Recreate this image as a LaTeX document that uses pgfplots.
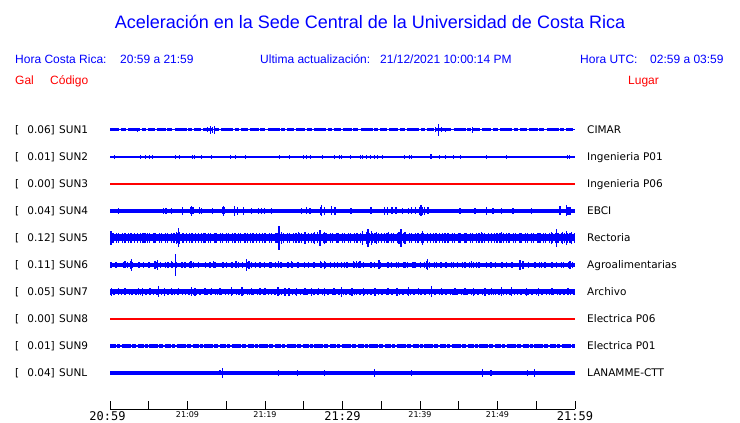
\documentclass[border=0pt]{standalone}
\usepackage{pgfplots}
\pgfplotsset{compat=1.18}
\usepackage{fontspec}
\setmainfont{Liberation Sans}
\newfontfamily\dv{DejaVu Sans}
\newfontfamily\dvm{DejaVu Sans Mono}
\begin{document}
\begin{tikzpicture}
\useasboundingbox (0,0) rectangle (740bp,423bp);
\begin{axis}[
  at={(110bp,14bp)}, anchor=south west,
  scale only axis, width=465bp, height=297bp,
  xmin=0, xmax=60, ymin=0, ymax=297,
  axis y line=none, axis x line=bottom,
  axis line style={-, black, line width=0.9bp},
  xtick={0,5,...,60},
  xticklabels={{\dvm\fontsize{12bp}{12bp}\selectfont\hspace*{-5bp}20:59},{},
    {\dv\fontsize{8bp}{8bp}\selectfont\raisebox{2.3bp}{21:09}},{},
    {\dv\fontsize{8bp}{8bp}\selectfont\raisebox{2.3bp}{21:19}},{},
    {\dvm\fontsize{12bp}{12bp}\selectfont 21:29},{},
    {\dv\fontsize{8bp}{8bp}\selectfont\raisebox{2.3bp}{21:39}},{},
    {\dv\fontsize{8bp}{8bp}\selectfont\raisebox{2.3bp}{21:49}},{},
    {\dvm\fontsize{12bp}{12bp}\selectfont 21:59}},
  major tick length=8bp, tick align=inside,
  tick style={black, line width=0.9bp},
  xticklabel style={anchor=base, yshift=-11bp, inner sep=0pt},
  clip=false,
  spike/.style={draw=none, forget plot, error bars/.cd, y dir=both, y explicit, error mark=none, error bar style={draw=blue, solid, line width=#1}},
]
% ---------- SUN3 (Ingenieria P06) and SUN8 (Electrica P06): flat red traces ----------
\addplot[draw=red, solid, line width=1.1bp, forget plot] coordinates {(0,225) (60,225)};
\addplot[draw=red, solid, line width=1.1bp, forget plot] coordinates {(0,90) (60,90)};
% ---------- SUN1 (CIMAR) ----------
\addplot[blue, line width=1bp, forget plot] coordinates {(0,279) (60,279)};
\addplot[blue, line width=3bp, forget plot, dash pattern=on 9bp off 1.5bp on 5bp off 2.5bp on 12bp off 1.5bp on 4bp off 2bp on 7bp off 2bp] coordinates {(0,279) (60,279)};
\addplot[spike=1.2bp] coordinates {
(3.53,279) +- (0,2.3) (12.6,279) +- (0,2.5) (12.94,279) +- (0,4.3) (13.2,279) +- (0,3)
(13.46,279) +- (0,4) (42.0,279) +- (0,2.5) (42.36,279) +- (0,6) (42.8,279) +- (0,2.5)
(43.3,279) +- (0,2.3) (46.74,279) +- (0,3.3)};
% ---------- SUN2 (Ingenieria P01) ----------
\addplot[blue, line width=1.1bp, forget plot] coordinates {(0,252) (60,252)};
\addplot[spike=0.9bp] coordinates {
(0.56,252) +- (0,1.8) (3.96,252) +- (0,1.8) (4.56,252) +- (0,1.8) (5.03,252) +- (0,1.6) (5.50,252) +- (0,1.6)
(8.43,252) +- (0,1.8) (8.90,252) +- (0,1.6) (10.62,252) +- (0,2.2) (10.88,252) +- (0,1.8) (11.82,252) +- (0,1.6)
(13.12,252) +- (0,1.8) (15.48,252) +- (0,1.6) (16.13,252) +- (0,1.6) (17.46,252) +- (0,2.2) (21.84,252) +- (0,1.6)
(23.13,252) +- (0,1.6) (24.98,252) +- (0,1.8) (25.33,252) +- (0,1.6) (25.84,252) +- (0,1.8) (27.43,252) +- (0,1.6)
(28.94,252) +- (0,1.6) (29.67,252) +- (0,1.8) (29.89,252) +- (0,1.8) (31.05,252) +- (0,1.6) (32.34,252) +- (0,1.6)
(32.55,252) +- (0,1.6) (33.15,252) +- (0,1.8) (33.63,252) +- (0,1.6) (34.10,252) +- (0,1.6) (34.53,252) +- (0,1.6)
(35.17,252) +- (0,1.6) (37.93,252) +- (0,1.6) (38.70,252) +- (0,1.6) (38.92,252) +- (0,1.8) (41.3,252) +- (0,2.5)
(41.5,252) +- (0,2.5) (42.48,252) +- (0,1.6) (43.26,252) +- (0,1.6) (44.29,252) +- (0,1.6) (45.19,252) +- (0,1.6)
(48.55,252) +- (0,1.6) (51.17,252) +- (0,1.6) (59.04,252) +- (0,1.8) (59.25,252) +- (0,1.8)};
% ---------- SUN4 (EBCI) ----------
\addplot[blue, line width=4.2bp, forget plot] coordinates {(0,198) (60,198)};
\addplot[spike=1.5bp] coordinates {
(1.07,198) +- (0,3) (6.88,198) +- (0,3) (7.22,198) +- (0,3) (7.96,198) +- (0,3) (9.33,198) +- (0,4)
(10.45,198) +- (0,3.5) (10.54,198) +- (0,5) (10.7,198) +- (0,3.5) (11.52,198) +- (0,3.5) (11.83,198) +- (0,3)
(13.20,198) +- (0,3) (14.5,198) +- (0,3.5) (14.62,198) +- (0,5) (14.75,198) +- (0,3.5) (16.04,198) +- (0,5)
(16.47,198) +- (0,4) (17.2,198) +- (0,4) (18.28,198) +- (0,3) (19.14,198) +- (0,3) (19.57,198) +- (0,3)
(19.91,198) +- (0,3) (20.86,198) +- (0,3) (24.72,198) +- (0,3) (25.37,198) +- (0,3.5) (25.80,198) +- (0,3)
(27.15,198) +- (0,4) (27.3,198) +- (0,5.5) (27.65,198) +- (0,4) (28.6,198) +- (0,4.5) (29.0,198) +- (0,4)
(31.1,198) +- (0,3) (33.67,198) +- (0,3.5) (35.39,198) +- (0,4) (35.8,198) +- (0,4) (36.4,198) +- (0,3.5)
(36.9,198) +- (0,3.5) (37.75,198) +- (0,3) (38.5,198) +- (0,3) (38.9,198) +- (0,3.5) (39.4,198) +- (0,3.5)
(40.0,198) +- (0,4) (40.12,198) +- (0,5.5) (40.3,198) +- (0,4) (40.55,198) +- (0,4) (41.06,198) +- (0,3.5)
(45.15,198) +- (0,3) (47.1,198) +- (0,3) (48.6,198) +- (0,4) (49.45,198) +- (0,3) (50.5,198) +- (0,3)
(52.0,198) +- (0,3) (54.4,198) +- (0,3) (58.05,198) +- (0,4.5) (58.9,198) +- (0,5.5) (59.1,198) +- (0,4)
(59.34,198) +- (0,4)};
% ---------- SUN5 (Rectoria) ----------
\addplot[blue, line width=7bp, forget plot] coordinates {(0,171) (60,171)};
\addplot[blue, line width=9.5bp, forget plot, dash pattern=on 0.8bp off 1.6bp on 1.2bp off 2.4bp on 0.8bp off 1bp on 1.6bp off 2.8bp] coordinates {(0,171) (60,171)};
\addplot[spike=1.3bp] coordinates {
(0.13,171) +- (0,7) (1.94,171) +- (0,5) (4.5,171) +- (0,5) (8.6,171) +- (0,6) (8.82,171) +- (0,9.5)
(9.0,171) +- (0,6) (9.33,171) +- (0,5) (12.26,171) +- (0,5) (17.4,171) +- (0,5) (20.0,171) +- (0,5)
(21.8,171) +- (0,12) (22.15,171) +- (0,6) (24.3,171) +- (0,5.5) (25.15,171) +- (0,6) (26.36,171) +- (0,6)
(26.8,171) +- (0,5.5) (27.09,171) +- (0,8) (27.7,171) +- (0,6) (29.45,171) +- (0,5) (32.6,171) +- (0,7)
(33.1,171) +- (0,6) (33.3,171) +- (0,9) (33.76,171) +- (0,7) (34.4,171) +- (0,6) (35.9,171) +- (0,5.5)
(37.3,171) +- (0,6) (37.54,171) +- (0,9) (38.06,171) +- (0,6) (40.29,171) +- (0,7) (43.2,171) +- (0,5)
(45.8,171) +- (0,5) (47.9,171) +- (0,5.5) (50.3,171) +- (0,5) (50.52,171) +- (0,5.5) (53.1,171) +- (0,5)
(55.26,171) +- (0,5) (57.0,171) +- (0,6) (57.62,171) +- (0,9) (58.35,171) +- (0,6) (58.9,171) +- (0,7)
(59.55,171) +- (0,6)};
% ---------- SUN6 (Agroalimentarias) ----------
\addplot[blue, line width=4bp, forget plot] coordinates {(0,144) (60,144)};
\addplot[blue, line width=5.5bp, forget plot, dash pattern=on 1bp off 4bp on 1.5bp off 6bp on 1bp off 3bp] coordinates {(0,144) (60,144)};
\addplot[spike=1.3bp] coordinates {
(0.22,144) +- (0,3) (1.94,144) +- (0,3.5) (2.65,144) +- (0,4) (2.8,144) +- (0,6) (3.66,144) +- (0,3)
(5.8,144) +- (0,4) (6.15,144) +- (0,5) (7.5,144) +- (0,3) (7.96,144) +- (0,3.5) (8.43,144) +- (0,11)
(9.67,144) +- (0,3) (10.45,144) +- (0,3.5) (12.9,144) +- (0,3) (13.33,144) +- (0,3.5) (14.62,144) +- (0,3)
(15.8,144) +- (0,3) (16.25,144) +- (0,3.5) (17.63,144) +- (0,6) (17.93,144) +- (0,4) (18.28,144) +- (0,3)
(19.35,144) +- (0,3) (20.64,144) +- (0,3) (21.7,144) +- (0,3.5) (22.9,144) +- (0,3) (23.4,144) +- (0,3.5)
(24.3,144) +- (0,3) (26.36,144) +- (0,3) (27.2,144) +- (0,3.5) (27.7,144) +- (0,4) (29.0,144) +- (0,3)
(30.3,144) +- (0,3) (31.4,144) +- (0,3.5) (31.8,144) +- (0,3.5) (32.25,144) +- (0,3.5) (33.76,144) +- (0,3)
(34.7,144) +- (0,4.5) (35.9,144) +- (0,3) (37.2,144) +- (0,3) (38.06,144) +- (0,3) (39.35,144) +- (0,3)
(40.85,144) +- (0,4) (41.0,144) +- (0,5.5) (41.9,144) +- (0,3) (42.8,144) +- (0,3) (44.1,144) +- (0,3)
(45.8,144) +- (0,3) (46.66,144) +- (0,3.5) (47.3,144) +- (0,3) (49.2,144) +- (0,3) (50.5,144) +- (0,3)
(52.9,144) +- (0,5) (53.3,144) +- (0,4) (54.8,144) +- (0,3) (55.7,144) +- (0,3) (57.0,144) +- (0,3)
(58.5,144) +- (0,3) (59.34,144) +- (0,4)};
% ---------- SUN7 (Archivo) ----------
\addplot[blue, line width=5bp, forget plot] coordinates {(0,117) (60,117)};
\addplot[blue, line width=6.5bp, forget plot, dash pattern=on 1.2bp off 2bp on 2bp off 3bp on 1bp off 1.5bp] coordinates {(0,117) (60,117)};
\addplot[spike=1.5bp] coordinates {
(0.22,117) +- (0,4) (1.07,117) +- (0,3.5) (1.94,117) +- (0,3.5) (3.66,117) +- (0,3.5) (4.17,117) +- (0,4)
(5.16,117) +- (0,3.5) (6.24,117) +- (0,5.5) (7.0,117) +- (0,4) (7.96,117) +- (0,3.5) (8.82,117) +- (0,3.5)
(10.54,117) +- (0,4.5) (10.97,117) +- (0,4) (12.26,117) +- (0,3.5) (13.12,117) +- (0,3.5) (14.19,117) +- (0,3.5)
(15.7,117) +- (0,4.5) (17.0,117) +- (0,4.5) (18.28,117) +- (0,3.5) (19.35,117) +- (0,3.5) (20.0,117) +- (0,3.5)
(21.7,117) +- (0,4.5) (22.6,117) +- (0,4) (23.1,117) +- (0,4) (24.08,117) +- (0,4) (25.15,117) +- (0,3.5)
(26.0,117) +- (0,4) (26.9,117) +- (0,3.5) (27.7,117) +- (0,4) (28.9,117) +- (0,3.5) (29.9,117) +- (0,5)
(31.2,117) +- (0,4) (32.7,117) +- (0,4) (34.2,117) +- (0,4) (35.9,117) +- (0,3.5) (37.0,117) +- (0,4)
(38.5,117) +- (0,4.5) (39.8,117) +- (0,3.5) (41.5,117) +- (0,5.5) (42.8,117) +- (0,3.5) (44.5,117) +- (0,3.5)
(45.8,117) +- (0,3.5) (46.9,117) +- (0,4) (48.4,117) +- (0,4) (49.2,117) +- (0,3.5) (50.5,117) +- (0,4.5)
(51.8,117) +- (0,4.5) (53.75,117) +- (0,4) (55.26,117) +- (0,4) (57.0,117) +- (0,3.5) (59.1,117) +- (0,3.5)};
% ---------- SUN9 (Electrica P01) ----------
\addplot[blue, line width=2bp, forget plot] coordinates {(0,63) (60,63)};
\addplot[blue, line width=3.3bp, forget plot, dash pattern=on 6bp off 1bp on 3bp off 1.5bp on 9bp off 1bp on 4bp off 2bp] coordinates {(0,63) (60,63)};
% ---------- SUNL (LANAMME-CTT) ----------
\addplot[blue, line width=3.5bp, forget plot] coordinates {(0,36) (60,36)};
\addplot[spike=1.2bp] coordinates {
(0.43,36) +- (0,2.3) (2.8,36) +- (0,2) (5.07,36) +- (0,2.3) (5.72,36) +- (0,2.3) (6.24,36) +- (0,2)
(7.4,36) +- (0,2) (9.16,36) +- (0,2.3) (10.1,36) +- (0,2) (10.75,36) +- (0,2.3) (12.6,36) +- (0,2)
(14.19,36) +- (0,2.5) (14.5,36) +- (0,4.7) (16.47,36) +- (0,2) (17.33,36) +- (0,2) (17.85,36) +- (0,2)
(18.4,36) +- (0,2.3) (20.86,36) +- (0,2) (21.7,36) +- (0,2.7) (22.6,36) +- (0,2) (23.65,36) +- (0,2.3)
(24.2,36) +- (0,2.7) (25.15,36) +- (0,2) (27.65,36) +- (0,2.7) (28.3,36) +- (0,2) (29.2,36) +- (0,2)
(30.2,36) +- (0,2) (31.2,36) +- (0,2) (32.4,36) +- (0,2.3) (32.6,36) +- (0,2.3) (33.3,36) +- (0,2)
(34.1,36) +- (0,4) (34.8,36) +- (0,2.3) (35.7,36) +- (0,2) (37.1,36) +- (0,2) (38.06,36) +- (0,2)
(38.9,36) +- (0,3.3) (40.0,36) +- (0,2) (41.3,36) +- (0,2) (43.86,36) +- (0,2) (44.6,36) +- (0,2.3)
(45.6,36) +- (0,2) (48.03,36) +- (0,4.3) (49.15,36) +- (0,2.7) (50.1,36) +- (0,2) (50.96,36) +- (0,2)
(51.4,36) +- (0,2) (53.9,36) +- (0,2.7) (54.74,36) +- (0,4)};
\end{axis}
\begin{scope}[x=1bp, y=-1bp, shift={(0,423bp)}]
\node[blue, font=\fontsize{18bp}{18bp}\selectfont] at (370,22) {Aceleración en la Sede Central de la Universidad de Costa Rica};
\begin{scope}[every node/.style={blue, inner sep=0pt, anchor=base west, font=\fontsize{12bp}{12bp}\selectfont}]
\node at (15,64) {Hora Costa Rica:};
\node at (120,64) {20:59 a 21:59};
\node at (260,64) {Ultima actualización:};
\node at (380,64) {21/12/2021 10:00:14 PM};
\node at (580,64) {Hora UTC:};
\node at (650,64) {02:59 a 03:59};
\node[red] at (15,85) {Gal};
\node[red] at (50,85) {Código};
\node[red] at (628,85) {Lugar};
\end{scope}
\begin{scope}[every node/.style={black, inner sep=0pt, font=\dv\fontsize{10.5bp}{10.5bp}\selectfont}]
\foreach \yy/\vv/\cc/\ll in {130/0.06/SUN1/CIMAR, 157/0.01/SUN2/Ingenieria P01, 184/0.00/SUN3/Ingenieria P06, 211/0.04/SUN4/EBCI, 238/0.12/SUN5/Rectoria, 265/0.11/SUN6/Agroalimentarias, 292/0.05/SUN7/Archivo, 319/0.00/SUN8/Electrica P06, 346/0.01/SUN9/Electrica P01, 373/0.04/SUNL/LANAMME-CTT}{
  \node[anchor=base west] at (15,\yy+4) {[};
  \node[anchor=base east] at (55,\yy+4) {\vv]};
  \node[anchor=base west] at (59,\yy+4) {\cc};
  \node[anchor=base west] at (587,\yy+4) {\ll};
}
\end{scope}
\end{scope}
\end{tikzpicture}
\end{document}
